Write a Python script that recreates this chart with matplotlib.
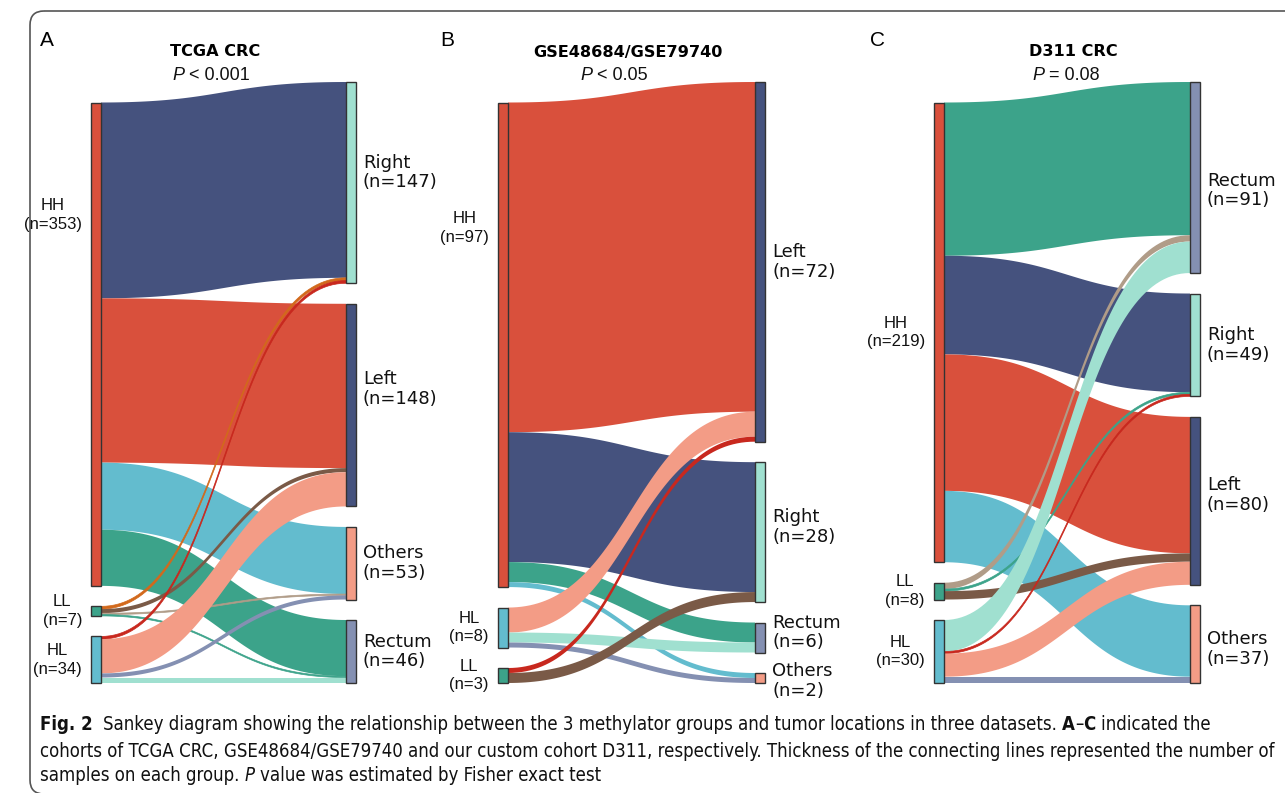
import numpy as np
import matplotlib
matplotlib.use('Agg')
import matplotlib.pyplot as plt
from matplotlib.patches import Rectangle, Polygon, FancyBboxPatch
from matplotlib.font_manager import FontProperties, fontManager

# ---------------- data ----------------
a_sources = ['HH', 'LL', 'HL']
a_source_n = [353, 7, 34]
a_targets = ['Right', 'Left', 'Others', 'Rectum']
a_target_n = [147, 148, 53, 46]
a_flows = [[143, 120, 49, 41],
           [2, 3, 1, 1],
           [2, 25, 3, 4]]

b_sources = ['HH', 'HL', 'LL']
b_source_n = [97, 8, 3]
b_targets = ['Left', 'Right', 'Rectum', 'Others']
b_target_n = [72, 28, 6, 2]
b_flows = [[66, 26, 4, 1],
           [5, 0, 2, 1],
           [1, 2, 0, 0]]

c_sources = ['HH', 'LL', 'HL']
c_source_n = [219, 8, 30]
c_targets = ['Rectum', 'Right', 'Left', 'Others']
c_target_n = [91, 49, 80, 37]
c_flows = [[73, 47, 65, 34],
           [3, 1, 4, 0],
           [15, 1, 11, 3]]

titles = ['TCGA CRC', 'GSE48684/GSE79740', 'D311 CRC']
p_values = [('<', '0.001'), ('<', '0.05'), ('=', '0.08')]
letters = ['A', 'B', 'C']

# ---------------- colours ----------------
RED = '#d9503c'
NAVY = '#45527e'
CYAN = '#63bcce'
TEAL = '#3ca38a'
SALMON = '#f39c86'
GRAYBLUE = '#8490b2'
MINT = '#a0e0d0'
DARKRED = '#c8281e'
BROWN = '#7a5a47'
TAN = '#b09c88'
ORANGE = '#d2691c'

node_colors = {'HH': RED, 'LL': TEAL, 'HL': CYAN, 'Right': MINT,
               'Left': NAVY, 'Others': SALMON, 'Rectum': GRAYBLUE}

a_link_colors = [[NAVY, RED, CYAN, TEAL],
                 [ORANGE, BROWN, TAN, TEAL],
                 [DARKRED, SALMON, GRAYBLUE, MINT]]
b_link_colors = [[RED, NAVY, TEAL, CYAN],
                 [SALMON, None, MINT, GRAYBLUE],
                 [DARKRED, BROWN, None, None]]
c_link_colors = [[TEAL, NAVY, RED, CYAN],
                 [TAN, TEAL, BROWN, None],
                 [MINT, DARKRED, SALMON, GRAYBLUE]]

# ---------------- layout (pixels) ----------------
W, H = 1285, 793
BOTTOM = 683
TOP = 82
GAP = 20.5
NODE_W = 10

panels = [
    dict(sources=a_sources, source_n=a_source_n, targets=a_targets, target_n=a_target_n,
         flows=a_flows, colors=a_link_colors, x_left=91, x_right=346,
         title_x=215, p_x=211, letter_x=40, hh_label_y=215,
         right_shift={'Right': -10, 'Left': -16}),
    dict(sources=b_sources, source_n=b_source_n, targets=b_targets, target_n=b_target_n,
         flows=b_flows, colors=b_link_colors, x_left=498, x_right=755,
         title_x=628, p_x=614, letter_x=440, hh_label_y=228,
         right_shift={'Right': -5, 'Rectum': -5, 'Others': 3}),
    dict(sources=c_sources, source_n=c_source_n, targets=c_targets, target_n=c_target_n,
         flows=c_flows, colors=c_link_colors, x_left=934, x_right=1190,
         title_x=1073, p_x=1066, letter_x=870, hh_label_y=None,
         right_shift={'Rectum': 13, 'Left': -6, 'Others': 5}),
]

fig = plt.figure(figsize=(W / 100, H / 100), dpi=100)
ax = fig.add_axes([0, 0, 1, 1])
ax.set_xlim(0, W)
ax.set_ylim(H, 0)
ax.axis('off')
renderer = fig.canvas.get_renderer()

label_font = FontProperties(family='Liberation Sans', size=12)
right_font = FontProperties(family='DejaVu Sans', size=13)
title_font = FontProperties(family='DejaVu Sans', weight='bold', size=11.6)


def node_tops(ns, scale):
    h = np.asarray(ns, float) * scale
    start = BOTTOM - h.sum() - (len(ns) - 1) * GAP
    return start + np.concatenate([[0], np.cumsum(h[:-1] + GAP)])


def bezier(x0, x1, ya, yb, t):
    xm = (x0 + x1) / 2
    x = (1 - t) ** 3 * x0 + 3 * (1 - t) ** 2 * t * xm + 3 * (1 - t) * t ** 2 * xm + t ** 3 * x1
    y = (1 - t) ** 3 * ya + 3 * (1 - t) ** 2 * t * ya + 3 * (1 - t) * t ** 2 * yb + t ** 3 * yb
    return x, y


def draw_sankey(p):
    src_n = np.array(p['source_n'], float)
    tgt_n = np.array(p['target_n'], float)
    flows = np.array(p['flows'], float)
    scale = (BOTTOM - TOP - (len(tgt_n) - 1) * GAP) / tgt_n.sum()
    s_top = node_tops(src_n, scale)
    t_top = node_tops(tgt_n, scale)
    x0 = p['x_left'] + NODE_W
    x1 = p['x_right']
    t = np.linspace(0, 1, 80)
    for i in range(len(src_n)):
        for j in range(len(tgt_n)):
            v = flows[i, j]
            if v <= 0:
                continue
            h = v * scale
            ys = s_top[i] + flows[i, :j].sum() * scale
            yt = t_top[j] + flows[:i, j].sum() * scale
            xa, ya = bezier(x0, x1, ys, yt, t)
            xb, yb = bezier(x0, x1, ys + h, yt + h, t)
            pts = np.column_stack([np.concatenate([xa, xb[::-1]]),
                                   np.concatenate([ya, yb[::-1]])])
            c = p['colors'][i][j]
            ax.add_patch(Polygon(pts, closed=True, fc=c, ec=c,
                                 lw=0.5 if h < 4 else 0, zorder=2))
    for name, top, n in zip(p['sources'], s_top, src_n):
        ax.add_patch(Rectangle((p['x_left'], top), NODE_W, n * scale,
                               fc=node_colors[name], ec='#333333', lw=1, zorder=3))
        ly = top + n * scale / 2
        if name == 'HH' and p['hh_label_y'] is not None:
            ly = p['hh_label_y']
        ax.text(p['x_left'] - 9, ly, f'{name}\n(n={int(n)})', ha='right', va='center',
                multialignment='center', fontproperties=label_font, linespacing=1.3,
                color='#111111')
    for name, top, n in zip(p['targets'], t_top, tgt_n):
        ax.add_patch(Rectangle((p['x_right'], top), NODE_W, n * scale,
                               fc=node_colors[name], ec='#333333', lw=1, zorder=3))
        ly = top + n * scale / 2 + p['right_shift'].get(name, 0)
        ax.text(p['x_right'] + NODE_W + 7, ly, f'{name}\n(n={int(n)})',
                ha='left', va='center', fontproperties=right_font, linespacing=1.12,
                color='#111111')


def seg_width(s, props):
    t1 = ax.text(0, 0, '|' + s + '|', fontproperties=props)
    t2 = ax.text(0, 0, '||', fontproperties=props)
    w = t1.get_window_extent(renderer).width - t2.get_window_extent(renderer).width
    t1.remove()
    t2.remove()
    return w


def draw_segments(x, y, segs, props_for, ha='left'):
    widths = [seg_width(s, props_for(k)) for s, k in segs]
    if ha == 'center':
        x = x - sum(widths) / 2
    for (s, k), w in zip(segs, widths):
        lead = len(s) - len(s.lstrip(' '))
        off = seg_width(s[:lead], props_for(k)) if lead else 0
        ax.text(x + off, y, s.strip(' '), fontproperties=props_for(k), ha='left',
                va='baseline', color='#111111')
        x += w


for p, title, (op, val), letter in zip(panels, titles, p_values, letters):
    draw_sankey(p)
    ax.text(p['title_x'], 52, title, ha='center', va='center', fontproperties=title_font)
    draw_segments(p['p_x'], 80, [('P', 'italic'), (f' {op} {val}', 'normal')],
                  lambda k: FontProperties(family='Liberation Sans', size=13,
                                           style='italic' if k == 'italic' else 'normal'),
                  ha='center')
    ax.text(p['letter_x'], 41, letter, ha='left', va='center',
            fontproperties=FontProperties(family='Liberation Sans', size=15))

# ---------------- caption ----------------
names = {f.name for f in fontManager.ttflist}
cond = [f for f in fontManager.ttflist if f.name == 'DejaVu Sans' and 'condensed' in str(f.stretch)]
if 'Liberation Sans Narrow' in names:
    cap_family, cap_stretch = 'Liberation Sans Narrow', 'normal'
elif cond:
    cap_family, cap_stretch = 'DejaVu Sans', 'condensed'
else:
    cap_family, cap_stretch = 'Liberation Sans', 'normal'

caption = [
    [('Fig. 2', 'bold'),
     ('  Sankey diagram showing the relationship between the 3 methylator groups and tumor '
      'locations in three datasets. ', 'normal'),
     ('A', 'bold'), ('\u2013', 'normal'), ('C', 'bold'), (' indicated the', 'normal')],
    [('cohorts of TCGA CRC, GSE48684/GSE79740 and our custom cohort D311, respectively. '
      'Thickness of the connecting lines represented the number of', 'normal')],
    [('samples on each group. ', 'normal'), ('P', 'italic'),
     (' value was estimated by Fisher exact test', 'normal')],
]


def cap_props(size):
    def f(k):
        return FontProperties(family=cap_family, stretch=cap_stretch, size=size,
                              weight='bold' if k == 'bold' else 'normal',
                              style='italic' if k == 'italic' else 'normal')
    return f


w10 = sum(seg_width(s, cap_props(10)(k)) for s, k in caption[1])
cap_size = 10 * (1278 - 40) / w10
for line, y in zip(caption, [730, 757, 781]):
    draw_segments(40, y, line, cap_props(cap_size))

ax.add_patch(FancyBboxPatch((30, 11), 1300, 783, boxstyle='round,pad=0,rounding_size=14',
                            fc='none', ec='#555555', lw=1.2, clip_on=False, zorder=0))

fig.savefig('out.png', dpi=100)
